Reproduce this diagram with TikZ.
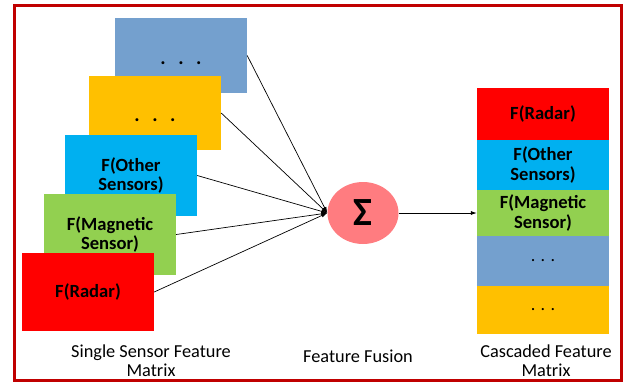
\documentclass[tikz,border=0pt]{standalone}
\usepackage{fontspec}
\setmainfont{Carlito}
\usetikzlibrary{shapes.geometric,arrows.meta}
\definecolor{cblue}{HTML}{74A0CE}
\definecolor{cyell}{HTML}{FFC000}
\definecolor{ccyan}{HTML}{00B0F0}
\definecolor{cgreen}{HTML}{92D050}
\definecolor{cred}{HTML}{FF0000}
\definecolor{csum}{HTML}{FF7C80}
\definecolor{cframe}{HTML}{C00000}
\tikzset{
  box/.style={fill=#1, draw=none, minimum width=132pt, inner sep=0pt, align=center,
    font=\fontsize{18.6}{19.5}\selectfont\bfseries},
  lbl/.style={align=center, inner sep=0pt, font=\fontsize{18.3}{19}\selectfont},
  dotsl/.style={inner sep=0pt, font=\fontsize{20}{20}\selectfont\bfseries},
  conn/.style={draw=black, line width=0.7pt, -{Latex[length=6pt,width=4pt]}},
}
\newcommand{\bigdots}{.\hspace{12.5pt}.\hspace{12.5pt}.}
\begin{document}
\begin{tikzpicture}[x=1pt,y=-1pt]
\useasboundingbox (0,0) rectangle (624,384);
\draw[cframe, line width=2.5pt] (14.5,5.5) rectangle (621.5,380.5);
% left stack
\node[box=cblue, minimum height=75pt] (b1) at (181,55.5) {};
\node[dotsl] (d1) at (181,63) {\bigdots};
\node[box=cyell, minimum height=74pt] (b2) at (155,113) {};
\node[dotsl] (d2) at (155,120) {\bigdots};
\node[box=ccyan, minimum height=81pt] (b3) at (131,175.5) {F(Other\\Sensors)};
\node[box=cgreen, minimum height=81pt] (b4) at (110,234.5) {F(Magnetic\\Sensor)};
\node[box=cred, minimum height=78pt] (b5) at (88,292) {F(Radar)};
% sum
\node[ellipse, fill=csum, minimum width=71pt, minimum height=62pt, inner sep=0pt,
  font=\fontsize{40}{40}\selectfont\bfseries] (sum) at (363,213) {Σ};
\foreach \b in {b1,b2,b3,b4,b5} \draw[conn] (\b.east) -- (sum.west);
% right stack
\node[box=cred, minimum height=52pt] (r1) at (543,114) {F(Radar)};
\node[box=ccyan, minimum height=50pt] (r2) at (543,165) {F(Other\\Sensors)};
\node[box=cgreen, minimum height=46pt] (r3) at (543,213) {F(Magnetic\\Sensor)};
\node[box=cblue, minimum height=50pt, font=\fontsize{18}{19}\selectfont] (r4) at (543,261) {. . .};
\node[box=cyell, minimum height=48pt, font=\fontsize{18}{19}\selectfont] (r5) at (543,310) {. . .};
\draw[conn] (sum.east) -- (r3.west);
% labels
\node[lbl] (l1) at (151,361) {Single Sensor Feature\\Matrix};
\node[lbl] (l2) at (358,356) {Feature Fusion};
\node[lbl] (l3) at (546,361) {Cascaded Feature\\Matrix};
\end{tikzpicture}
\end{document}
